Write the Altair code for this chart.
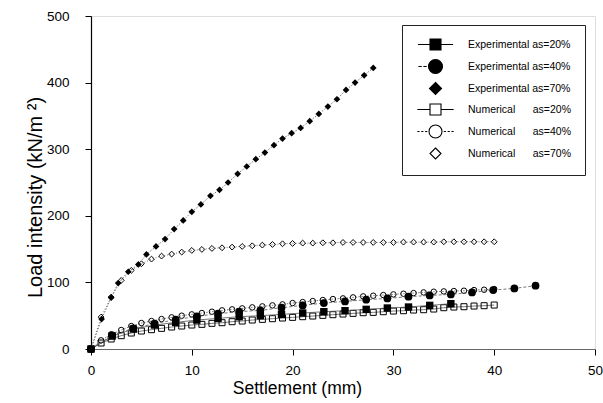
import altair as alt
import pandas as pd

# ---- measured load-settlement curves -------------------------------------
# Experimental plate tests (settlement in mm, load intensity in kN/m2)
exp20_x = [0.0, 2.1, 4.2, 6.3, 8.4, 10.5, 12.6, 14.7, 16.8, 18.9, 21.0, 23.1,
           25.2, 27.3, 29.4, 31.5, 33.6, 35.7]
exp20_y = [0, 19.5, 30, 36, 40, 43.5, 46, 48.5, 50, 52, 54, 56,
           57.5, 59.5, 61.5, 63, 65.5, 68]

exp40_x = [0.0, 2.1, 4.2, 6.3, 8.4, 10.5, 12.6, 14.7, 16.8, 18.9, 21.0, 23.1,
           25.2, 27.3, 29.4, 31.5, 33.6, 35.7, 37.8, 39.9, 42.0, 44.1]
exp40_y = [0, 20.5, 31, 38, 44, 49, 53, 56, 58, 62, 65.5, 69,
           71.5, 74, 76, 78.5, 80.5, 82, 85, 88.5, 91, 95]

exp70_x = [0.0, 1.05, 2.0, 2.7, 3.7, 4.7, 5.5, 6.45, 7.35, 8.25, 9.15, 10.0,
           10.9, 11.85, 12.75, 13.6, 14.55, 15.45, 16.35, 17.25, 18.15, 19.0,
           19.9, 20.8, 21.7, 22.6, 23.5, 24.4, 25.3, 26.2, 27.1, 28.0]
exp70_y = [0, 45, 77, 99, 116, 127, 142, 154, 165, 180, 193, 206,
           217, 230, 239, 250, 263, 274, 285, 295, 306, 316,
           324, 332, 342, 353, 364, 375, 389, 400, 411, 422]

# Numerical model output, one value per millimetre of settlement
num_x = [0, 1, 2, 3, 4, 5, 6, 7, 8, 9, 10, 11, 12, 13, 14, 15, 16, 17, 18, 19,
         20, 21, 22, 23, 24, 25, 26, 27, 28, 29, 30, 31, 32, 33, 34, 35, 36,
         37, 38, 39, 40]
num20_y = [0, 9, 15, 20, 24, 27, 29, 31, 33, 34.5, 36, 37, 38.5, 39.5, 41, 42,
           43.5, 44.5, 45.5, 46.5, 47.5, 48.5, 49.5, 50.5, 51.5, 52.5, 53.5,
           54.5, 55, 56, 57, 57.5, 58.5, 59, 60, 62, 63, 63.5, 64.5, 65, 66]
num40_y = [0, 13, 22, 28.5, 34.5, 39, 42, 45, 47.5, 50, 52, 54, 56, 58, 59.5,
           61, 62.5, 64, 65.5, 67, 69, 70.5, 72, 73.5, 75, 76, 77.5, 79, 80,
           81, 82, 83, 84, 85, 86, 86.5, 87, 87.5, 88.5, 89, 90]
num70_y = [0, 48, 78, 103, 118, 128, 135, 139.5, 142.5, 145.5, 148, 149.5,
           151, 152, 153, 154, 155, 156, 157, 158, 158.5, 159, 159, 159.5,
           159.5, 160, 160, 160, 160, 160, 160, 160.5, 160.5, 160.5, 160.5,
           161, 161, 161, 161, 161, 161]

LABELS = [
    "Experimental as=20%",
    "Experimental as=40%",
    "Experimental as=70%",
    "Numerical\u00a0\u00a0\u00a0\u00a0\u00a0\u00a0as=20%",
    "Numerical\u00a0\u00a0\u00a0\u00a0\u00a0\u00a0as=40%",
    "Numerical\u00a0\u00a0\u00a0\u00a0\u00a0\u00a0as=70%",
]
X_TICKS = [0, 10, 20, 30, 40, 50]
Y_TICKS = [0, 100, 200, 300, 400, 500]

FONT = "Liberation Sans"

x_enc = alt.X(
    "settlement:Q",
    scale=alt.Scale(domain=[0, 50], nice=False, zero=False),
    axis=alt.Axis(
        values=X_TICKS, format="d", title="Settlement (mm)", grid=False,
        labelFont=FONT, labelFontSize=13.5, labelColor="black", labelFlush=False,
        labelPadding=8, tickSize=6, tickColor="black",
        domainColor="#666", domainWidth=1,
        titleFont=FONT, titleFontSize=17.5, titleFontWeight="normal",
        titleColor="black", titleX=206, titleY=30,
    ),
)
y_enc = alt.Y(
    "load:Q",
    scale=alt.Scale(domain=[0, 500], nice=False),
    axis=alt.Axis(
        values=Y_TICKS, format="d", title="Load intensity (kN/m \u00b2)", grid=False,
        labelFont=FONT, labelFontSize=13.5, labelColor="black", labelFlush=False,
        labelPadding=16, tickSize=6, tickColor="black",
        domainColor="black", domainWidth=1.2,
        titleFont=FONT, titleFontSize=20, titleFontWeight="normal",
        titleColor="black", titleX=-46, titleY=181,
    ),
)


def frame(xs, ys):
    return pd.DataFrame({"settlement": xs, "load": ys})


# (data, line dash, marker shape, filled, marker size)
series = [
    (frame(num_x, num20_y), [], "square", False, 36),
    (frame(num_x, num40_y), [1.5, 1.5], "circle", False, 30),
    (frame(num_x, num70_y), [1, 2], "diamond", False, 34),
    (frame(exp20_x, exp20_y), [], "square", True, 55),
    (frame(exp40_x, exp40_y), [3, 2], "circle", True, 60),
    (frame(exp70_x, exp70_y), [1.5, 1.5], "diamond", True, 45),
]

layers = []
for df, dash, shape, filled, size in series:
    layers.append(
        alt.Chart(df).mark_line(color="#555", strokeWidth=0.8, strokeDash=dash)
        .encode(x=x_enc, y=y_enc)
    )
    layers.append(
        alt.Chart(df).mark_point(
            shape=shape, filled=filled, size=size, color="black",
            strokeWidth=1.0, opacity=1,
        ).encode(x=x_enc, y=y_enc)
    )

# Legend glyphs: marker plus the short line segment drawn through it
LEGEND_SHAPES = [
    "M-3.2,0H-1M1,0H3.2M-1,-1H1V1H-1Z",
    "M-3.1,0H-2.5M-2.2,0H-1.6M-1.27,0A1.27,1.27,0,1,0,1.27,0A1.27,1.27,0,1,0,-1.27,0Z",
    "M0,-1.1L1.1,0L0,1.1L-1.1,0Z",
    "M-3.3,0H-1M1,0H3.3M-1,-1H1V1H-1Z",
    "M-3.3,0H-2.9M-2.6,0H-2.2M-1.9,0H-1.5M1.5,0H1.9M2.2,0H2.6M2.9,0H3.3"
    "M-1.18,0A1.18,1.18,0,1,0,1.18,0A1.18,1.18,0,1,0,-1.18,0Z",
    "M0,-1L1,0L0,1L-1,0Z",
]
LEGEND_FILLS = ["black", "black", "black", "white", "white", "white"]

legend = alt.Legend(
    title=None, orient="none", legendX=311, legendY=9,
    padding=13, rowPadding=4, symbolSize=121, symbolStrokeWidth=1.1,
    symbolOffset=14, labelOffset=26, symbolOpacity=1,
    labelFont=FONT, labelFontSize=10.5, labelColor="black", labelLimit=400,
    strokeColor="#222", fillColor="white", cornerRadius=0,
)

legend_df = pd.DataFrame({"series": LABELS, "settlement": [0] * 6, "load": [0] * 6})
legend_layer = alt.Chart(legend_df).mark_point(
    filled=True, stroke="black", strokeWidth=1.1, opacity=0
).encode(
    x=x_enc,
    y=y_enc,
    color=alt.Color("series:N", scale=alt.Scale(domain=LABELS, range=LEGEND_FILLS), legend=legend),
    shape=alt.Shape("series:N", scale=alt.Scale(domain=LABELS, range=LEGEND_SHAPES), legend=legend),
)

chart = alt.layer(*layers, legend_layer).properties(
    width=504,
    height=333,
    autosize=alt.AutoSizeParams(type="none"),
    padding={"left": 91, "top": 16, "right": 8, "bottom": 54},
    background="white",
).configure_view(
    stroke="#777", strokeWidth=1
).configure(font=FONT)

chart.save("out.html", embed_options={"renderer": "svg", "actions": False})
